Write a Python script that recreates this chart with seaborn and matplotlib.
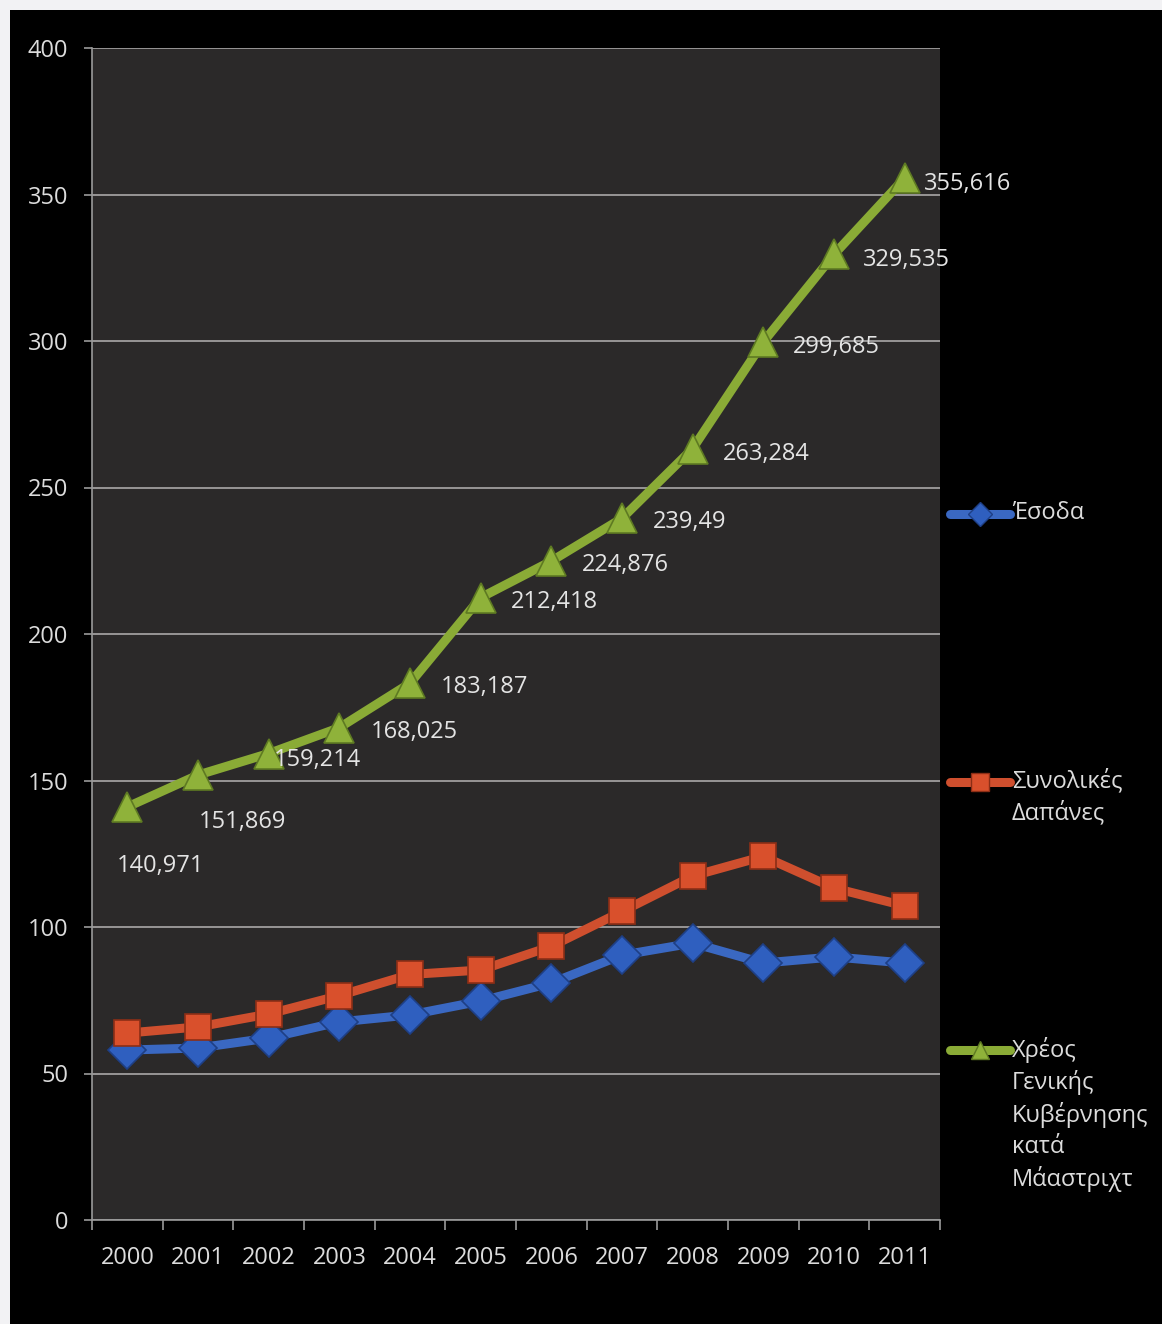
import matplotlib
matplotlib.use("Agg")
import matplotlib.pyplot as plt
from matplotlib.lines import Line2D
from matplotlib.patches import Rectangle
import seaborn as sns
import pandas as pd

years = [2000, 2001, 2002, 2003, 2004, 2005, 2006, 2007, 2008, 2009, 2010, 2011]
revenue = [58.0, 58.7, 62.1, 67.6, 70.0, 74.7, 80.9, 90.4, 94.5, 87.7, 89.8, 87.7]
expenditure = [63.8, 65.9, 70.3, 76.6, 83.8, 85.3, 93.4, 105.3, 117.4, 124.1, 113.3, 107.2]
debt = [140.971, 151.869, 159.214, 168.025, 183.187, 212.418, 224.876, 239.49,
        263.284, 299.685, 329.535, 355.616]
debt_labels = ["140,971", "151,869", "159,214", "168,025", "183,187", "212,418",
               "224,876", "239,49", "263,284", "299,685", "329,535", "355,616"]
series_names = ["Έσοδα", "Συνολικές\nΔαπάνες", "Χρέος\nΓενικής\nΚυβέρνησης\nκατά\nΜάαστριχτ"]
y_ticks = [0, 50, 100, 150, 200, 250, 300, 350, 400]

sns.set_theme(style="dark")
plt.rcParams['font.family'] = ['Open Sans', 'DejaVu Sans']

W, H = 1162, 1324
FS = 17
fig = plt.figure(figsize=(W / 100, H / 100), dpi=100, facecolor="#f2f2f4")
fig.add_artist(Rectangle((10 / W, 0), 1, 1 - 10 / H, transform=fig.transFigure,
                         facecolor="black", edgecolor="none", zorder=0))

ax = fig.add_axes([92 / W, 1 - 1220 / H, (940 - 92) / W, (1220 - 48) / H])
ax.set_facecolor("#2b2929")

styles = [
    dict(color="#3a68c2", marker="D", markersize=19, mfc="#2f5fbf", mec="#1e3f85"),
    dict(color="#cf4f2e", marker="s", markersize=19, mfc="#d9502c", mec="#8c2e16"),
    dict(color="#8aab36", marker="^", markersize=21, mfc="#8fb23a", mec="#5e7a22"),
]
values = [revenue, expenditure, debt]

for vals, st in zip(values, styles):
    df = pd.DataFrame({"year": years, "value": vals})
    sns.lineplot(data=df, x="year", y="value", ax=ax, color=st["color"], linewidth=6.5,
                 marker=st["marker"], markersize=st["markersize"],
                 markerfacecolor=st["mfc"], markeredgecolor=st["mec"],
                 markeredgewidth=1.2, legend=False, zorder=3)

# data labels on debt series (offsets in pixels: dx to label's left edge, dy downward)
label_offsets = [(-11, 59), (1, 47), (5, 6), (31, 4), (31, 4), (30, 4),
                 (31, 4), (31, 4), (30, 5), (30, 5), (29, 6), (19, 6)]
for yr, v, lab, (dx, dy) in zip(years, debt, debt_labels, label_offsets):
    ax.annotate(lab, (yr, v), xytext=(dx / 1.389, -dy / 1.389), textcoords="offset points",
                ha="left", va="center", fontsize=FS, color="#e4e4e4", zorder=4)

ax.set_xlim(years[0] - 0.5, years[-1] + 0.5)
ax.set_ylim(0, 400)
ax.set_yticks(y_ticks)
ax.set_xticks(years)
ax.set_xticks([y - 0.5 for y in years] + [years[-1] + 0.5], minor=True)
ax.set_xticklabels([str(y) for y in years])
ax.set_xlabel("")
ax.set_ylabel("")
ax.grid(axis="y", color="#a09e9e", linewidth=1.3)
ax.grid(axis="x", visible=False)
ax.tick_params(axis="x", which="major", length=0, pad=19, labelsize=FS, labelcolor="#dcdcdc")
ax.tick_params(axis="x", which="minor", length=7, width=1.2, color="#9a9a9a", direction="out", bottom=True)
ax.tick_params(axis="y", length=6, width=1.2, color="#9a9a9a", direction="out", left=True,
               pad=11, labelsize=FS, labelcolor="#dcdcdc")
for side in ["top", "right"]:
    ax.spines[side].set_visible(False)
for side in ["left", "bottom"]:
    ax.spines[side].set_visible(True)
    ax.spines[side].set_color("#9a9a9a")
    ax.spines[side].set_linewidth(1.2)

# custom legend to the right
legend_rows = [514, 782, 1050]
for name, st, yrow in zip(series_names, styles, legend_rows):
    yf = 1 - yrow / H
    fig.add_artist(Line2D([950 / W, 1010 / W], [yf, yf], transform=fig.transFigure,
                          color=st["color"], linewidth=6.5, zorder=5))
    fig.add_artist(Line2D([980 / W], [yf], transform=fig.transFigure, marker=st["marker"],
                          markersize=st["markersize"] * 0.65, markerfacecolor=st["mfc"],
                          markeredgecolor=st["mec"], linestyle="none", zorder=6))
    fig.text(1012 / W, yf + 13 / H, name, ha="left", va="top", fontsize=FS,
             color="#dcdcdc", linespacing=1.37)

fig.savefig("out.png", dpi=100, facecolor=fig.get_facecolor())
